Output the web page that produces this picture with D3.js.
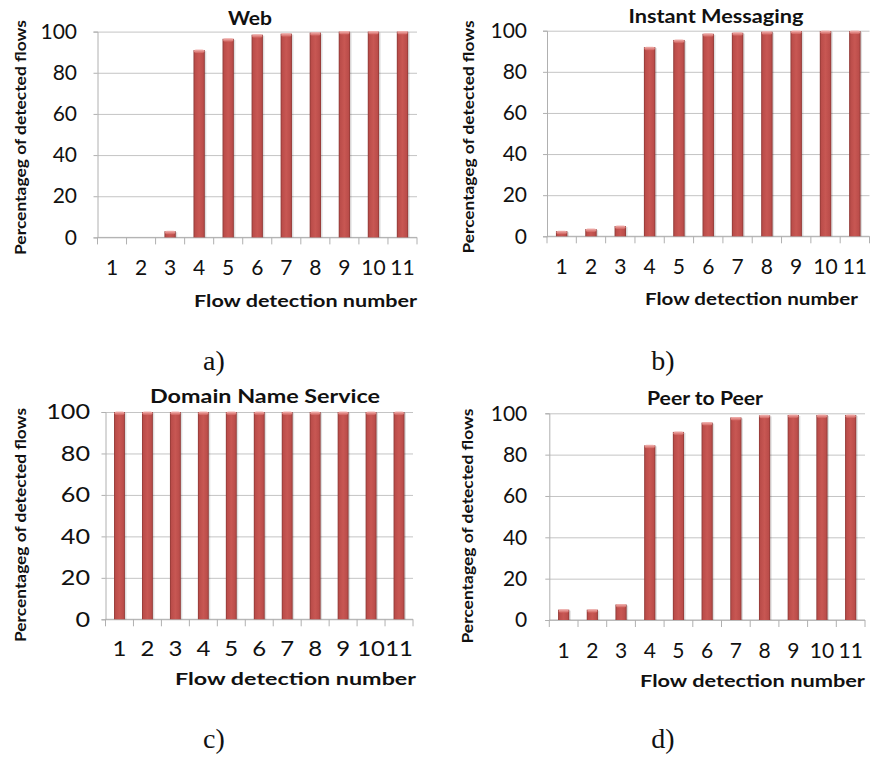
<!DOCTYPE html>
<html>
<head>
<meta charset="utf-8">
<script src="https://cdn.jsdelivr.net/npm/d3@7"></script>
<style>
  html, body { margin: 0; padding: 0; background: #ffffff; }
  svg { display: block; }
  text { font-family: Lato, "Open Sans", "DejaVu Sans", sans-serif; fill: #111; }
</style>
</head>
<body>
<script>
// ---------------- data ----------------
const categories = ["1","2","3","4","5","6","7","8","9","10","11"];
const yTicks = [0, 20, 40, 60, 80, 100];
const webValues = [0, 0, 3, 91, 96.5, 98.5, 99, 99.5, 100, 100, 100];
const imValues  = [2.5, 3.5, 5, 92, 95.5, 98.5, 99, 99.5, 99.8, 99.8, 99.8];
const dnsValues = [100, 100, 100, 100, 100, 100, 100, 100, 100, 100, 100];
const p2pValues = [5, 5, 7.5, 84.5, 91, 95.5, 98, 99, 99.2, 99.2, 99.2];
const panelTitles = ["Web", "Instant Messaging", "Domain Name Service", "Peer to Peer"];
const panelLabels = ["a)", "b)", "c)", "d)"];
const xTitle = "Flow detection number";
const yTitle = "Percentageg of detected flows";

// ---------------- layout ----------------
const W = 874, H = 758;
const svg = d3.select("body").append("svg").attr("width", W).attr("height", H);

const defs = svg.append("defs");
const bg = defs.append("linearGradient").attr("id", "barGrad")
  .attr("x1", 0).attr("x2", 1).attr("y1", 0).attr("y2", 0);
[[0, "#8a3633"], [0.14, "#bb4d4a"], [0.5, "#c85753"], [0.86, "#bb4d4a"], [1, "#8a3633"]]
  .forEach(([o, c]) => bg.append("stop").attr("offset", o).attr("stop-color", c));
const cg = defs.append("linearGradient").attr("id", "capGrad")
  .attr("x1", 0).attr("x2", 0).attr("y1", 0).attr("y2", 1);
[[0, "#f3b6b3"], [1, "#d0625e"]]
  .forEach(([o, c]) => cg.append("stop").attr("offset", o).attr("stop-color", c));

const panelValues = [webValues, imValues, dnsValues, p2pValues];

// geometry per panel (positions only)
const geo = [
  { L: 97.5, R: 417, T: 31.6, B: 237.4, titleX: 250, titleY: 25, titleW: 44,
    tickBase: 275, xtR: 417, xtY: 307, xtW: 223, ytX: 20, ytY: 137.5, ytW: 235, ylGap: 20.5, sx: 1.0,
    labX: 214, labY: 370 },
  { L: 547, R: 869.5, T: 30.7, B: 236.3, titleX: 716, titleY: 23, titleW: 175,
    tickBase: 274.5, xtR: 858, xtY: 305, xtW: 213, ytX: 468, ytY: 137, ytW: 233, ylGap: 20, sx: 1.0,
    labX: 663, labY: 370 },
  { L: 105.5, R: 413, T: 412, B: 619.3, titleX: 265, titleY: 402.5, titleW: 230,
    tickBase: 656.5, xtR: 416, xtY: 685, xtW: 241, ytX: 20, ytY: 525, ytW: 234, ylGap: 15.5, sx: 1.2,
    labX: 214, labY: 748 },
  { L: 549.3, R: 865, T: 413.3, B: 620, titleX: 705, titleY: 404.5, titleW: 116,
    tickBase: 658, xtR: 865, xtY: 687, xtW: 225, ytX: 467, ytY: 526, ytW: 235, ylGap: 22, sx: 1.0,
    labX: 663, labY: 748 }
];

const tickFS = 21;

panelValues.forEach((vals, pi) => {
  const g = geo[pi];
  const data = categories.map((c, i) => ({ cat: c, v: vals[i] }));
  const x = d3.scaleBand().domain(categories).range([g.L, g.R])
    .paddingInner(0.61).paddingOuter(0.305);
  const y = d3.scaleLinear().domain([0, 100]).range([g.B, g.T]);
  const P = svg.append("g");

  // gridlines
  const grid = P.append("g").attr("transform", `translate(${g.L},0)`)
    .call(d3.axisLeft(y).tickValues(yTicks).tickSize(-(g.R - g.L)).tickFormat(""));
  grid.select(".domain").remove();
  grid.selectAll(".tick line").attr("stroke", "#c4c4c4").attr("stroke-width", 1);

  // x boundary ticks
  const bounds = d3.range(categories.length + 1).map(i => g.L + i * x.step());
  P.append("g").selectAll("line").data(bounds).join("line")
    .attr("x1", d => d).attr("x2", d => d)
    .attr("y1", g.B).attr("y2", g.B + 7)
    .attr("stroke", "#b0b0b0").attr("stroke-width", 1);

  // y axis line + ticks + labels
  const yAx = P.append("g").attr("transform", `translate(${g.L},0)`)
    .call(d3.axisLeft(y).tickValues(yTicks).tickSize(4).tickPadding(g.ylGap - 4));
  yAx.select(".domain").attr("stroke", "#b0b0b0");
  yAx.selectAll(".tick line").attr("stroke", "#b0b0b0");
  yAx.selectAll(".tick text").attr("font-size", tickFS).attr("font-family", "Lato")
    .attr("fill", "#111")
    .each(function () {
      if (g.sx !== 1) {
        const t = d3.select(this);
        const xx = +t.attr("x");
        t.attr("transform", `translate(${xx},0) scale(${g.sx},1) translate(${-xx},0)`);
      }
    });

  // bottom baseline
  P.append("line").attr("x1", g.L).attr("x2", g.R).attr("y1", g.B).attr("y2", g.B)
    .attr("stroke", "#b0b0b0");

  // x tick labels
  const xAx = P.append("g").attr("transform", `translate(0,${g.B})`)
    .call(d3.axisBottom(x).tickSize(0).tickPadding(g.tickBase - g.B - 0.71 * tickFS));
  xAx.select(".domain").remove();
  xAx.selectAll(".tick text").attr("font-size", tickFS).attr("font-family", "Lato")
    .attr("fill", "#111")
    .each(function () {
      if (g.sx !== 1) d3.select(this).attr("transform", `scale(${g.sx * 0.95},1)`);
    });

  // bars
  const bars = P.append("g").selectAll("g").data(data.filter(d => d.v > 0)).join("g");
  bars.append("rect")
    .attr("x", d => x(d.cat) + 1.5).attr("y", d => y(d.v) + 1)
    .attr("width", x.bandwidth()).attr("height", d => y(0) - y(d.v) - 1)
    .attr("fill", "rgba(0,0,0,0.13)");
  bars.append("rect")
    .attr("x", d => x(d.cat)).attr("y", d => y(d.v))
    .attr("width", x.bandwidth()).attr("height", d => y(0) - y(d.v))
    .attr("fill", "url(#barGrad)");
  bars.append("rect")
    .attr("x", d => x(d.cat) + 0.5).attr("y", d => y(d.v) - 0.5)
    .attr("width", x.bandwidth() - 1).attr("height", 3.5).attr("rx", 1.8)
    .attr("fill", "url(#capGrad)");

  // title
  P.append("text").attr("x", g.titleX).attr("y", g.titleY)
    .attr("text-anchor", "middle").attr("font-weight", "bold").attr("font-size", 18)
    .attr("textLength", g.titleW).attr("lengthAdjust", "spacingAndGlyphs")
    .text(panelTitles[pi]);

  // x title
  P.append("text").attr("x", g.xtR - g.xtW / 2).attr("y", g.xtY)
    .attr("text-anchor", "middle").attr("font-weight", "bold").attr("font-size", 17)
    .attr("textLength", g.xtW).attr("lengthAdjust", "spacingAndGlyphs")
    .text(xTitle);

  // y title
  P.append("text").attr("transform", `translate(${g.ytX},${g.ytY}) rotate(-90)`)
    .attr("text-anchor", "middle").attr("dy", "0.35em")
    .attr("font-weight", "bold").attr("font-size", 16)
    .attr("textLength", g.ytW).attr("lengthAdjust", "spacingAndGlyphs")
    .text(yTitle);

  // panel label
  svg.append("text").attr("x", g.labX).attr("y", g.labY)
    .attr("text-anchor", "middle")
    .style("font-family", "'Liberation Serif', 'DejaVu Serif', serif")
    .attr("font-size", 28).attr("fill", "#222")
    .text(panelLabels[pi]);
});
</script>
</body>
</html>
